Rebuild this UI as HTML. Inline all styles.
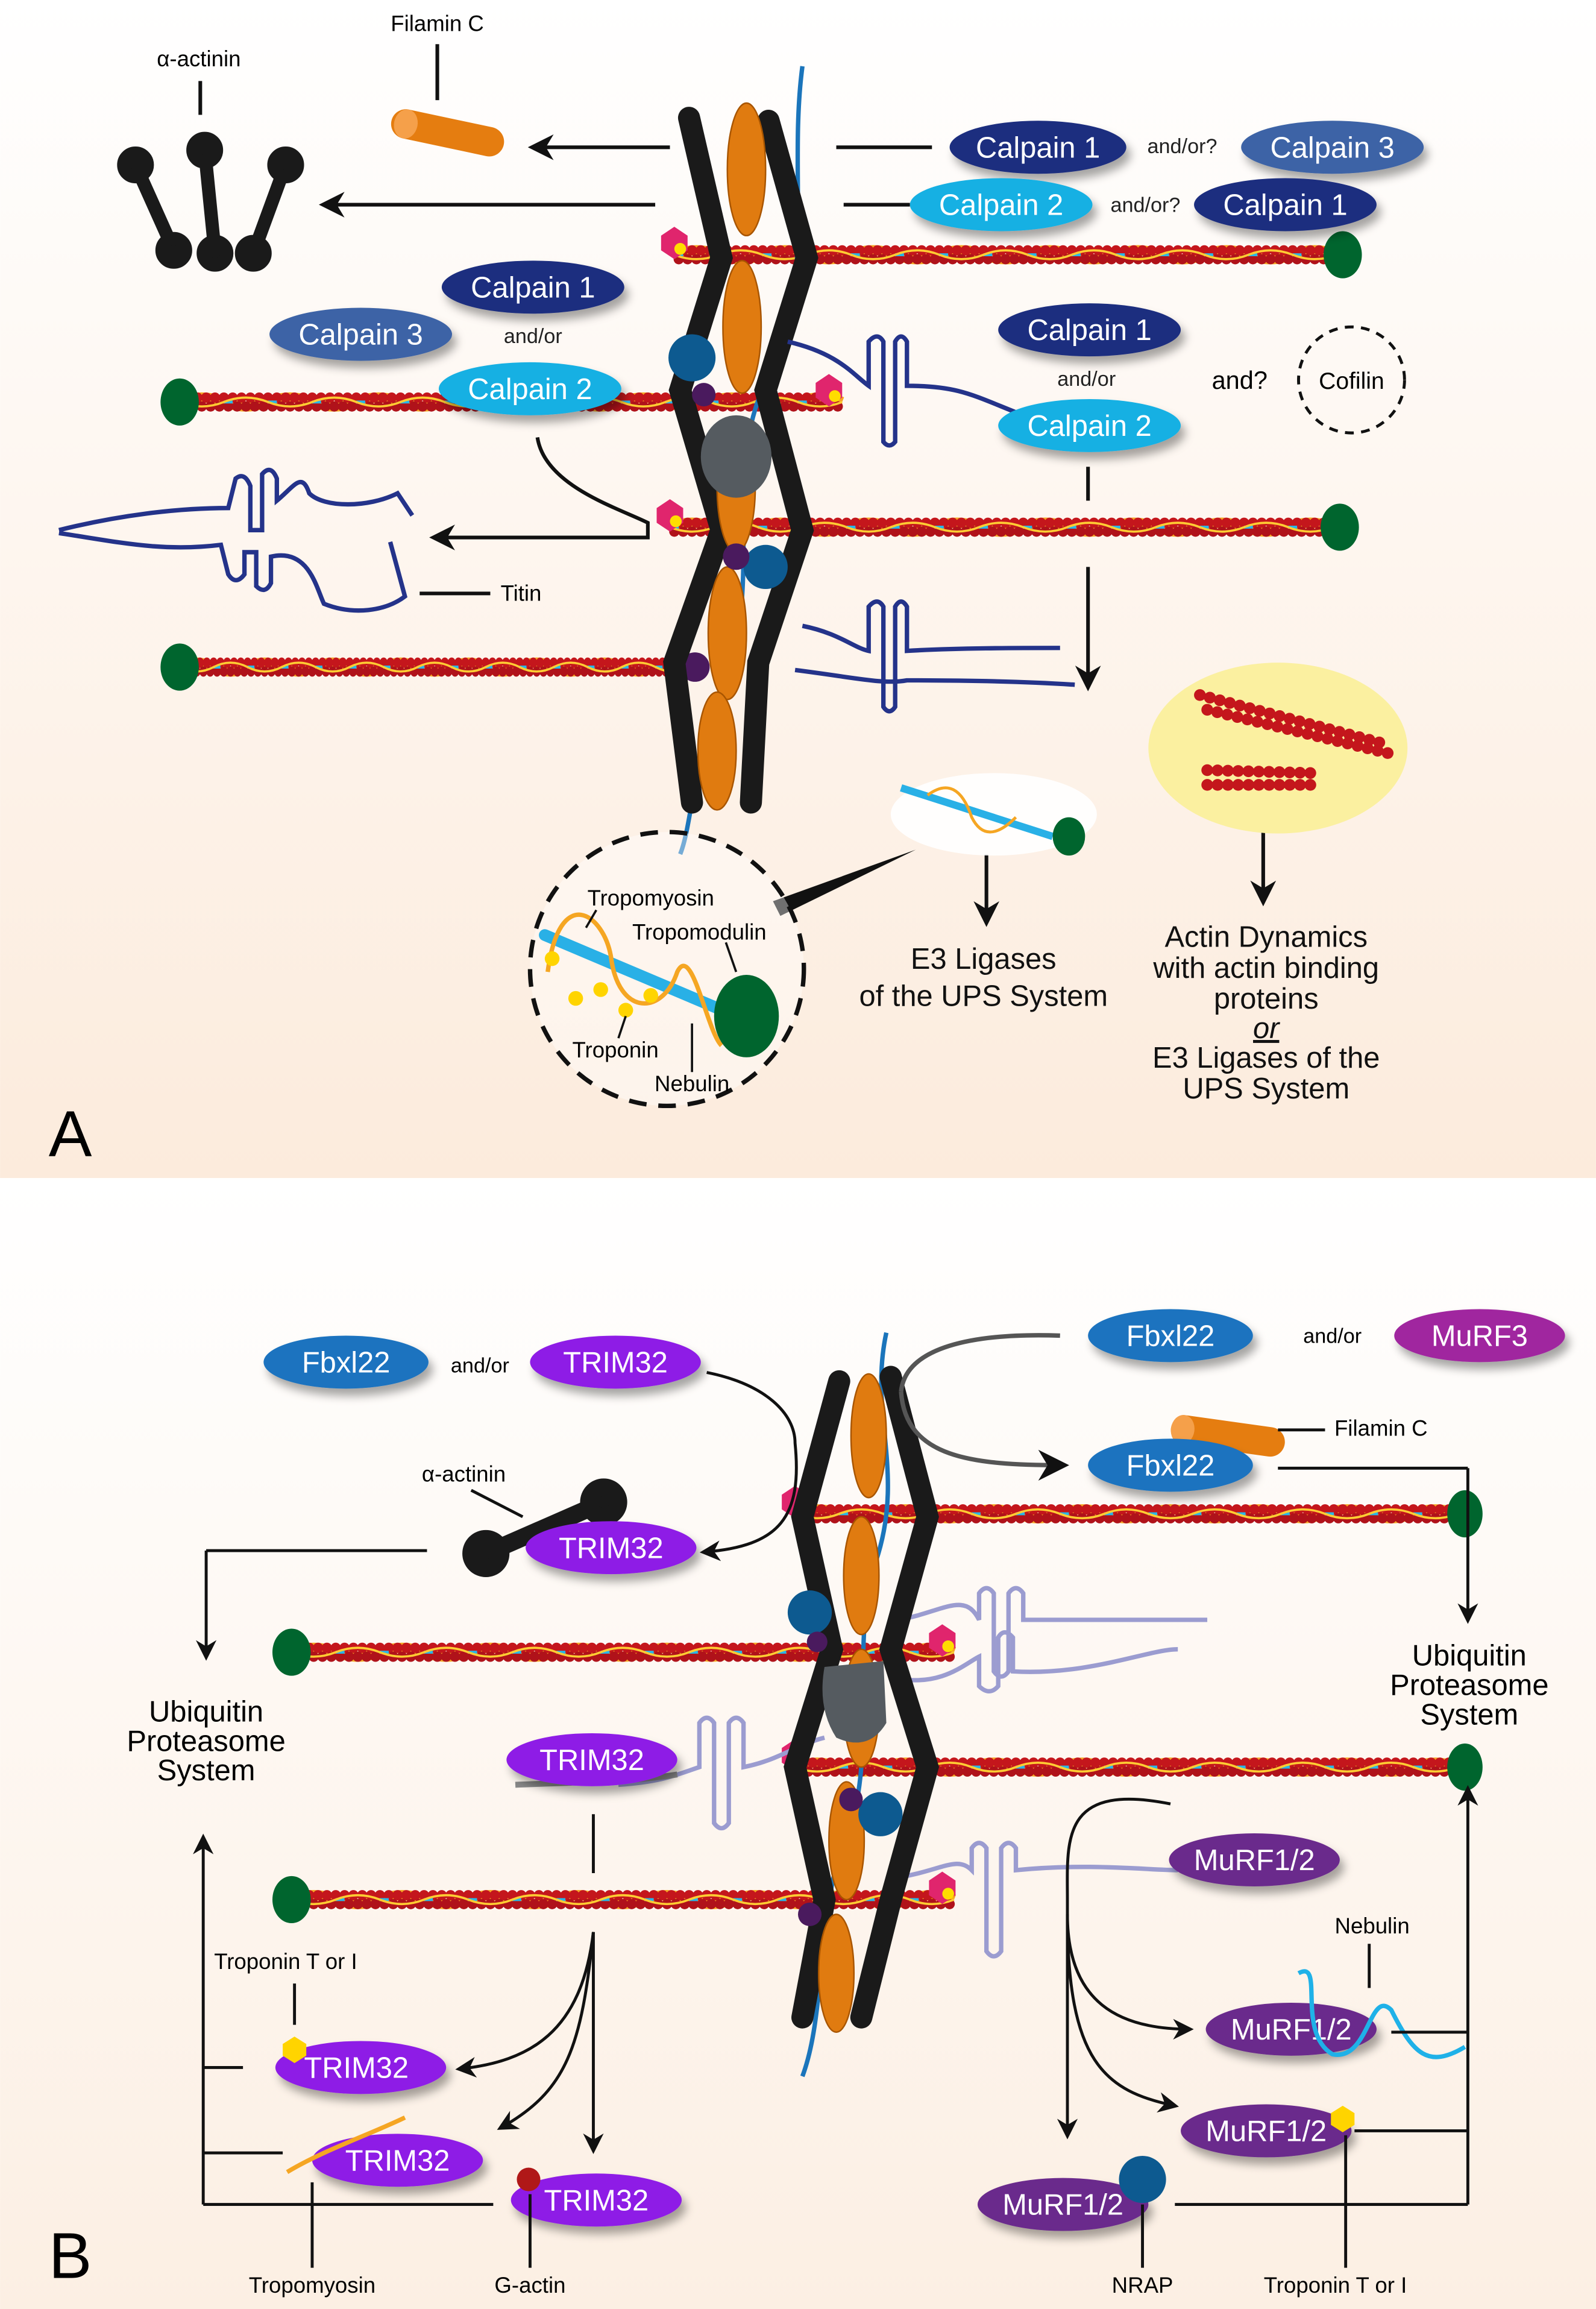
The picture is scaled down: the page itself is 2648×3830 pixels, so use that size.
<!DOCTYPE html>
<html><head><meta charset="utf-8"><style>
html,body{margin:0;padding:0;background:#fff}
svg{display:block}
text{font-family:"Liberation Sans",sans-serif}
</style></head><body>
<svg width="2648" height="3830" viewBox="0 0 1084 1568" xmlns="http://www.w3.org/2000/svg">
<defs>
<linearGradient id="bgA" x1="0" y1="0" x2="0" y2="1"><stop offset="0" stop-color="#ffffff"/><stop offset="1" stop-color="#fcebdc"/></linearGradient>
<linearGradient id="bgB" x1="0" y1="0" x2="0" y2="1"><stop offset="0" stop-color="#ffffff"/><stop offset="1" stop-color="#fcefe3"/></linearGradient>
<filter id="sh" x="-30%" y="-50%" width="160%" height="220%"><feDropShadow dx="3" dy="5" stdDeviation="3" flood-color="#000" flood-opacity="0.35"/></filter>
<marker id="ar" viewBox="0 0 10 10" refX="8" refY="5" markerWidth="7" markerHeight="7" orient="auto"><path d="M0,0 L10,5 L0,10 L3,5z" fill="#111"/></marker>
<g id="fil">
<path d="M0,0 Q15,-6 30,0 T60,0 T90,0 T120,0 T150,0 T180,0 T210,0 T240,0 T270,0 T300,0 T330,0 T360,0 T390,0 T420,0 T450,0" stroke="#f5a623" stroke-width="7" fill="none"/>
<line x1="0" y1="-3" x2="450" y2="-3" stroke="#c4161c" stroke-width="7" stroke-dasharray="0 6" stroke-linecap="round"/>
<line x1="3" y1="3" x2="450" y2="3" stroke="#b0121a" stroke-width="7" stroke-dasharray="0 6" stroke-linecap="round"/>
<line x1="0" y1="0" x2="450" y2="0" stroke="#29b6e8" stroke-width="2" stroke-dasharray="6 24"/>
<path d="M0,0 Q15,6 30,0 T60,0 T90,0 T120,0 T150,0 T180,0 T210,0 T240,0 T270,0 T300,0 T330,0 T360,0 T390,0 T420,0 T450,0" stroke="#ffcc33" stroke-width="1.5" fill="none"/>
</g>
<g id="hex"><polygon points="-9,-5 0,-11 9,-5 9,5 0,11 -9,5" fill="#e0256d"/><circle cx="4" cy="4" r="4" fill="#ffdd00"/></g>
</defs>
<rect x="0" y="0" width="1084" height="800" fill="url(#bgA)"/>
<rect x="0" y="800" width="1084" height="768" fill="url(#bgB)"/>

<!-- ============ PANEL A ============ -->
<!-- filaments -->
<use href="#fil" x="458" y="173"/><ellipse cx="912" cy="173" rx="13" ry="16" fill="#00652e"/><use href="#hex" x="458" y="165"/>
<use href="#fil" x="122" y="273" transform="translate(0,0)"/><ellipse cx="122" cy="273" rx="13" ry="16" fill="#00652e"/><use href="#hex" x="563" y="265"/>
<use href="#fil" x="455" y="358"/><ellipse cx="910" cy="358" rx="13" ry="16" fill="#00652e"/><use href="#hex" x="455" y="350"/>
<use href="#fil" x="122" y="453" transform="matrix(0.77,0,0,1,28,0)"/><ellipse cx="122" cy="453" rx="13" ry="16" fill="#00652e"/><circle cx="472" cy="453" r="10" fill="#4a1a5e"/>
<!-- titin blue line -->
<path d="M545,45 C535,120 555,200 520,260 C490,320 520,400 490,470 C470,520 470,560 462,580" stroke="#1b75bb" stroke-width="3" fill="none"/>
<!-- z-disc -->
<g stroke="#1a1a1a" stroke-width="15" stroke-linecap="round" fill="none">
<polyline points="468,80 490,175 462,265 490,360 458,450 470,545"/>
<polyline points="522,82 548,175 520,265 545,360 515,450 510,545"/>
</g>
<g fill="#e07b10" stroke="#a85500" stroke-width="1">
<ellipse cx="507" cy="115" rx="13" ry="45"/><ellipse cx="504" cy="222" rx="13" ry="45"/><ellipse cx="500" cy="330" rx="13" ry="45"/><ellipse cx="494" cy="430" rx="13" ry="45"/><ellipse cx="487" cy="510" rx="13" ry="40"/>
</g>
<circle cx="470" cy="243" r="16" fill="#0d5a90"/><circle cx="520" cy="385" r="15" fill="#0d5a90"/><circle cx="500" cy="378" r="9" fill="#4a1a5e"/><circle cx="478" cy="268" r="8" fill="#4a1a5e"/>
<ellipse cx="500" cy="310" rx="24" ry="28" fill="#555b60"/>
<!-- right titin loops -->
<g stroke="#24338a" stroke-width="3" fill="none">
<path d="M535,232 C570,240 580,255 590,262 L590,232 Q596,225 600,232 L600,300 Q604,305 608,300 L608,232 Q612,225 616,232 L616,262 C650,262 660,268 690,280"/>
<path d="M545,425 C570,430 580,440 590,442 L590,412 Q596,405 600,412 L600,480 Q604,486 608,480 L608,412 Q612,405 616,412 L616,442 C650,440 690,440 720,440"/>
<path d="M540,455 C580,460 600,465 616,462 C660,462 700,463 730,465"/>
</g>
<!-- left titin loose -->
<path d="M40,360 C80,350 120,345 155,345 L160,325 Q166,320 170,330 L170,360 L178,360 L178,322 Q184,315 188,325 L188,340 C200,330 205,320 210,335 C220,345 250,345 270,335 L280,350" stroke="#24338a" stroke-width="3" fill="none"/>
<path d="M40,362 C80,368 110,375 150,370 L155,390 Q160,398 166,390 L166,375 L174,375 L174,398 Q180,404 184,396 L184,378 C210,372 215,400 220,410 C240,418 262,415 275,405 L265,368" stroke="#24338a" stroke-width="3" fill="none"/>
<!-- calpains A -->
<g filter="url(#sh)">
<ellipse cx="705" cy="100" rx="60" ry="18" fill="#1f2e7f"/><ellipse cx="905" cy="100" rx="62" ry="18" fill="#3c63a6"/>
<ellipse cx="680" cy="139" rx="62" ry="18" fill="#17b0e3"/><ellipse cx="873" cy="139" rx="62" ry="18" fill="#1f2e7f"/>
<ellipse cx="362" cy="195" rx="62" ry="18" fill="#1f2e7f"/><ellipse cx="245" cy="227" rx="62" ry="18" fill="#3c63a6"/><ellipse cx="360" cy="264" rx="62" ry="18" fill="#17b0e3"/>
<ellipse cx="740" cy="224" rx="62" ry="18" fill="#1f2e7f"/><ellipse cx="740" cy="289" rx="62" ry="18" fill="#17b0e3"/>
</g>
<g fill="#fff" font-size="20" text-anchor="middle">
<text x="705" y="107">Calpain 1</text><text x="905" y="107">Calpain 3</text>
<text x="680" y="146">Calpain 2</text><text x="873" y="146">Calpain 1</text>
<text x="362" y="202">Calpain 1</text><text x="245" y="234">Calpain 3</text><text x="360" y="271">Calpain 2</text>
<text x="740" y="231">Calpain 1</text><text x="740" y="296">Calpain 2</text>
</g>
<g font-size="14" fill="#222" text-anchor="middle">
<text x="803" y="104">and/or?</text><text x="778" y="144">and/or?</text><text x="362" y="233">and/or</text><text x="738" y="262">and/or</text>
</g>
<text x="842" y="264" font-size="17" text-anchor="middle">and?</text>
<circle cx="918" cy="258" r="36" fill="none" stroke="#111" stroke-width="2" stroke-dasharray="6 5"/>
<text x="918" y="264" font-size="16" text-anchor="middle">Cofilin</text>
<!-- arrows A -->
<g stroke="#111" stroke-width="2.5" fill="none">
<line x1="633" y1="100" x2="568" y2="100"/><line x1="455" y1="100" x2="362" y2="100" marker-end="url(#ar)"/>
<line x1="618" y1="139" x2="573" y2="139"/><line x1="445" y1="139" x2="220" y2="139" marker-end="url(#ar)"/>
<line x1="297" y1="30" x2="297" y2="68"/><line x1="136" y1="55" x2="136" y2="78"/>
<path d="M365,297 C370,330 420,345 440,355 L440,365 L295,365" marker-end="url(#ar)"/>
<line x1="285" y1="403" x2="333" y2="403"/>
<line x1="739" y1="317" x2="739" y2="340"/><line x1="739" y1="385" x2="739" y2="466" marker-end="url(#ar)"/>
<line x1="858" y1="563" x2="858" y2="612" marker-end="url(#ar)"/>
<line x1="670" y1="580" x2="670" y2="626" marker-end="url(#ar)"/>
</g>
<text x="297" y="21" font-size="15" text-anchor="middle">Filamin C</text>
<text x="135" y="45" font-size="15" text-anchor="middle">α-actinin</text>
<text x="340" y="408" font-size="15">Titin</text>
<!-- filamin C A -->
<g transform="rotate(12 303 90)"><rect x="265" y="80" width="78" height="20" rx="10" fill="#e57d10"/><ellipse cx="275" cy="90" rx="8" ry="10" fill="#f5a04a"/></g>
<!-- alpha actinins -->
<g stroke="#1a1a1a" stroke-width="9" stroke-linecap="round" fill="#1a1a1a">
<line x1="92" y1="112" x2="118" y2="170"/><line x1="139" y1="102" x2="146" y2="172"/><line x1="194" y1="112" x2="172" y2="172"/>
<circle cx="92" cy="112" r="8"/><circle cx="118" cy="170" r="8"/><circle cx="139" cy="102" r="8"/><circle cx="146" cy="172" r="8"/><circle cx="194" cy="112" r="8"/><circle cx="172" cy="172" r="8"/>
</g>
<!-- yellow ellipse -->
<ellipse cx="868" cy="508" rx="88" ry="58" fill="#fbf0a0"/>
<g stroke="#c4161c" stroke-width="8" stroke-dasharray="0 7" stroke-linecap="round">
<line x1="815" y1="472" x2="940" y2="505"/><line x1="820" y1="482" x2="945" y2="512"/>
<line x1="820" y1="523" x2="892" y2="525"/><line x1="820" y1="533" x2="892" y2="533"/>
</g>
<!-- small filament -->
<ellipse cx="675" cy="553" rx="70" ry="28" fill="#fff" opacity="0.9"/>
<line x1="612" y1="535" x2="715" y2="568" stroke="#29b0e6" stroke-width="5"/>
<path d="M630,540 Q650,525 660,555 Q670,575 690,555" stroke="#f5a623" stroke-width="2" fill="none"/>
<ellipse cx="726" cy="568" rx="11" ry="13" fill="#00652e"/>
<!-- triangle pointer -->
<polygon points="622,577 525,612 530,622" fill="#111"/>
<!-- dashed circle detail -->
<circle cx="453" cy="658" r="93" fill="#fff" opacity="0.4"/>
<circle cx="453" cy="658" r="93" fill="none" stroke="#111" stroke-width="3" stroke-dasharray="12 8"/>
<line x1="370" y1="635" x2="500" y2="690" stroke="#29b0e6" stroke-width="8" stroke-linecap="round"/>
<path d="M372,660 C380,600 410,620 415,650 C420,690 450,690 460,660 C470,640 480,700 490,710" stroke="#f5a623" stroke-width="3" fill="none"/>
<ellipse cx="507" cy="690" rx="22" ry="28" fill="#00652e"/>
<g fill="#ffd400"><circle cx="375" cy="651" r="5"/><circle cx="391" cy="678" r="5"/><circle cx="408" cy="672" r="5"/><circle cx="425" cy="686" r="5"/><circle cx="442" cy="676" r="5"/></g>
<g stroke="#111" stroke-width="1.5"><line x1="405" y1="618" x2="398" y2="630"/><line x1="493" y1="640" x2="500" y2="660"/><line x1="425" y1="690" x2="420" y2="705"/><line x1="470" y1="695" x2="470" y2="728"/></g>
<g font-size="15" text-anchor="middle"><text x="442" y="615">Tropomyosin</text><text x="475" y="638">Tropomodulin</text><text x="418" y="718">Troponin</text><text x="470" y="741">Nebulin</text></g>
<g font-size="20" text-anchor="middle" fill="#111">
<text x="668" y="658">E3 Ligases</text><text x="668" y="683">of the UPS System</text>
<text x="860" y="643">Actin Dynamics</text><text x="860" y="664">with actin binding</text><text x="860" y="685">proteins</text><text x="860" y="705" font-style="italic" text-decoration="underline">or</text><text x="860" y="725">E3 Ligases of the</text><text x="860" y="746">UPS System</text>
</g>
<text x="33" y="785" font-size="44">A</text>

<!-- ============ PANEL B ============ -->
<use href="#fil" x="540" y="1028"/><ellipse cx="995" cy="1028" rx="12" ry="16" fill="#00652e"/><use href="#hex" x="540" y="1020"/>
<use href="#fil" x="198" y="1122"/><ellipse cx="198" cy="1122" rx="13" ry="16" fill="#00652e"/><use href="#hex" x="640" y="1114"/>
<use href="#fil" x="540" y="1200"/><ellipse cx="995" cy="1200" rx="12" ry="16" fill="#00652e"/><use href="#hex" x="540" y="1192"/>
<use href="#fil" x="198" y="1290"/><ellipse cx="198" cy="1290" rx="13" ry="16" fill="#00652e"/><use href="#hex" x="640" y="1282"/>
<!-- faded titin loops -->
<g stroke="#9b9cd0" stroke-width="3" fill="none">
<path d="M610,1100 C640,1095 655,1080 665,1100 L665,1082 Q670,1075 675,1082 L675,1135 Q680,1142 685,1135 L685,1082 Q690,1075 695,1082 L695,1100 C740,1100 780,1100 820,1100"/>
<path d="M610,1140 C640,1145 655,1130 665,1125 L665,1145 Q672,1152 678,1145 L678,1112 Q682,1105 688,1112 L688,1135 C740,1138 780,1120 800,1120"/>
<path d="M420,1212 C450,1210 460,1205 475,1200 L475,1170 Q480,1163 485,1170 L485,1238 Q490,1245 495,1238 L495,1170 Q500,1163 505,1170 L505,1200 C530,1195 540,1185 560,1180"/>
<path d="M610,1275 C640,1270 650,1260 660,1270 L660,1255 Q665,1248 670,1255 L670,1325 Q675,1332 680,1325 L680,1255 Q685,1248 690,1255 L690,1270 C740,1265 780,1270 800,1270"/>
</g>
<path d="M350,1212 C400,1210 430,1210 460,1205" stroke="#888" stroke-width="4" fill="none"/>
<path d="M602,905 C590,960 615,1000 595,1060 C575,1120 600,1200 570,1260 C555,1310 560,1370 545,1410" stroke="#1b75bb" stroke-width="3" fill="none"/>
<g stroke="#1a1a1a" stroke-width="15" stroke-linecap="round" fill="none">
<polyline points="570,938 545,1030 565,1120 540,1200 560,1290 545,1370"/>
<polyline points="605,935 630,1030 605,1120 630,1200 605,1290 585,1370"/>
</g>
<g fill="#e07b10" stroke="#a85500" stroke-width="1">
<ellipse cx="590" cy="975" rx="12" ry="42"/><ellipse cx="585" cy="1070" rx="12" ry="40"/><ellipse cx="585" cy="1160" rx="12" ry="40"/><ellipse cx="575" cy="1250" rx="12" ry="40"/><ellipse cx="568" cy="1340" rx="12" ry="40"/>
</g>
<circle cx="550" cy="1095" r="15" fill="#0d5a90"/><circle cx="598" cy="1232" r="15" fill="#0d5a90"/><circle cx="578" cy="1222" r="8" fill="#4a1a5e"/><circle cx="555" cy="1115" r="7" fill="#4a1a5e"/><circle cx="550" cy="1300" r="8" fill="#4a1a5e"/>
<path d="M560,1132 L600,1128 L602,1170 Q590,1190 568,1180 Q555,1160 560,1132z" fill="#555b60"/>
<!-- filamin C B -->
<g transform="rotate(8 833 975)"><rect x="795" y="965" width="78" height="20" rx="10" fill="#e57d10"/><ellipse cx="803" cy="975" rx="8" ry="10" fill="#f5a04a"/></g>
<!-- alpha actinin B -->
<g stroke="#1a1a1a" stroke-width="12" stroke-linecap="round" fill="#1a1a1a"><line x1="330" y1="1055" x2="410" y2="1020"/><circle cx="330" cy="1055" r="10"/><circle cx="410" cy="1020" r="10"/></g>
<!-- ovals B -->
<g filter="url(#sh)">
<ellipse cx="235" cy="925" rx="56" ry="18" fill="#1a73bf"/><ellipse cx="418" cy="925" rx="58" ry="18" fill="#8e1ee6"/>
<ellipse cx="795" cy="907" rx="56" ry="18" fill="#1a73bf"/><ellipse cx="1005" cy="907" rx="58" ry="18" fill="#a0289f"/>
<ellipse cx="795" cy="995" rx="56" ry="18" fill="#1a73bf"/>
<ellipse cx="415" cy="1051" rx="58" ry="18" fill="#8e1ee6"/><ellipse cx="402" cy="1195" rx="58" ry="18" fill="#8e1ee6"/>
<ellipse cx="852" cy="1263" rx="58" ry="18" fill="#6b2a8c"/><ellipse cx="877" cy="1378" rx="58" ry="18" fill="#6b2a8c"/><ellipse cx="860" cy="1447" rx="58" ry="18" fill="#6b2a8c"/><ellipse cx="722" cy="1497" rx="58" ry="18" fill="#6b2a8c"/>
<ellipse cx="245" cy="1404" rx="58" ry="18" fill="#8e1ee6"/><ellipse cx="270" cy="1467" rx="58" ry="18" fill="#8e1ee6"/><ellipse cx="405" cy="1494" rx="58" ry="18" fill="#8e1ee6"/>
</g>
<g fill="#fff" font-size="20" text-anchor="middle">
<text x="235" y="932">Fbxl22</text><text x="418" y="932">TRIM32</text><text x="795" y="914">Fbxl22</text><text x="1005" y="914">MuRF3</text><text x="795" y="1002">Fbxl22</text>
<text x="415" y="1058">TRIM32</text><text x="402" y="1202">TRIM32</text>
<text x="852" y="1270">MuRF1/2</text><text x="877" y="1385">MuRF1/2</text><text x="860" y="1454">MuRF1/2</text><text x="722" y="1504">MuRF1/2</text>
<text x="242" y="1411">TRIM32</text><text x="270" y="1474">TRIM32</text><text x="405" y="1501">TRIM32</text>
</g>
<g font-size="14" text-anchor="middle"><text x="326" y="932">and/or</text><text x="905" y="912">and/or</text></g>
<!-- decorations -->
<path d="M882,1340 C900,1330 880,1380 905,1395 C930,1400 930,1350 945,1365 C960,1395 970,1405 995,1390" stroke="#1fb1e8" stroke-width="3" fill="none"/>
<path d="M195,1475 C220,1460 250,1450 275,1438" stroke="#f5a623" stroke-width="3" fill="none"/>
<polygon points="192,1388 200,1383 208,1388 208,1396 200,1401 192,1396" fill="#ffd400"/>
<polygon points="904,1435 912,1430 920,1435 920,1443 912,1448 904,1443" fill="#ffd400"/>
<circle cx="359" cy="1480" r="8" fill="#b01818"/>
<circle cx="776" cy="1480" r="16" fill="#0d5a90"/>
<!-- connectors B -->
<g stroke="#111" stroke-width="2" fill="none">
<path d="M480,932 C520,940 540,960 540,980 C545,1030 530,1050 478,1054" marker-end="url(#ar)"/>
<line x1="290" y1="1053" x2="140" y2="1053"/><line x1="140" y1="1053" x2="140" y2="1125" marker-end="url(#ar)"/>
<line x1="868" y1="997" x2="997" y2="997"/><line x1="997" y1="997" x2="997" y2="1100" marker-end="url(#ar)"/>
<line x1="868" y1="971" x2="900" y2="971"/><line x1="355" y1="1030" x2="320" y2="1012"/>
<line x1="403" y1="1232" x2="403" y2="1272"/>
<line x1="403" y1="1312" x2="403" y2="1460" marker-end="url(#ar)"/>
<path d="M403,1312 C395,1380 360,1400 312,1405" marker-end="url(#ar)"/>
<path d="M403,1312 C395,1390 385,1420 340,1445" marker-end="url(#ar)"/>
<line x1="138" y1="1497" x2="138" y2="1248" marker-end="url(#ar)"/>
<polyline points="138,1404 165,1404"/><polyline points="138,1462 192,1462"/><polyline points="138,1497 335,1497"/>
<line x1="200" y1="1347" x2="200" y2="1375"/><line x1="212" y1="1482" x2="212" y2="1540"/><line x1="360" y1="1490" x2="360" y2="1540"/>
<path d="M795,1225 C720,1210 725,1250 725,1290 L725,1450" marker-end="url(#ar)"/>
<path d="M725,1300 C725,1360 760,1378 808,1378" marker-end="url(#ar)"/>
<path d="M725,1300 C725,1400 750,1420 798,1430" marker-end="url(#ar)"/>
<line x1="997" y1="1497" x2="997" y2="1215" marker-end="url(#ar)"/>
<polyline points="945,1380 997,1380"/><polyline points="920,1447 997,1447"/><polyline points="798,1497 997,1497"/>
<line x1="930" y1="1320" x2="930" y2="1350"/><line x1="914" y1="1450" x2="914" y2="1540"/><line x1="776" y1="1497" x2="776" y2="1540"/>
</g>
<g stroke="#555" stroke-width="3" fill="none">
<path d="M720,907 C660,905 615,915 612,945"/>
<path d="M612,945 C615,990 660,995 722,995" marker-end="url(#ar)"/>
</g>
<g font-size="15" text-anchor="middle">
<text x="938" y="975">Filamin C</text><text x="315" y="1006">α-actinin</text>
<text x="194" y="1337">Troponin T or I</text><text x="932" y="1313">Nebulin</text>
<text x="212" y="1557">Tropomyosin</text><text x="360" y="1557">G-actin</text><text x="776" y="1557">NRAP</text><text x="907" y="1557">Troponin T or I</text>
</g>
<g font-size="20" text-anchor="middle">
<text x="140" y="1169">Ubiquitin</text><text x="140" y="1189">Proteasome</text><text x="140" y="1209">System</text>
<text x="998" y="1131">Ubiquitin</text><text x="998" y="1151">Proteasome</text><text x="998" y="1171">System</text>
</g>
<text x="33" y="1547" font-size="44">B</text>
</svg>
</body></html>
